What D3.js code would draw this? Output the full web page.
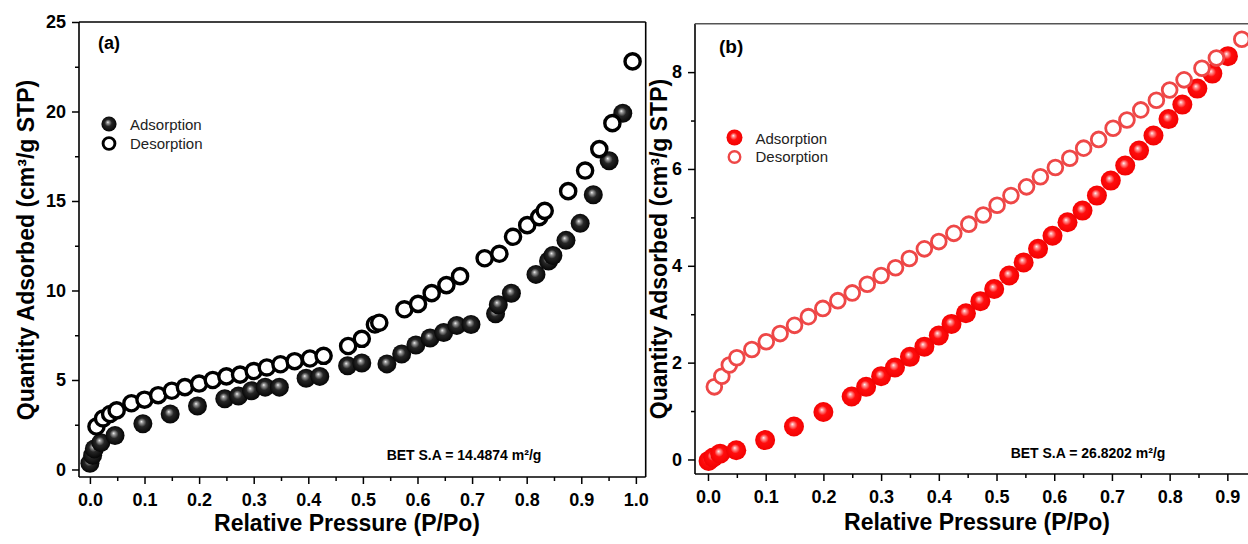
<!DOCTYPE html>
<html><head><meta charset="utf-8">
<script src="https://cdn.jsdelivr.net/npm/d3@7"></script>
<style>body{margin:0;background:#fff}svg{display:block;font-family:"Liberation Sans",Arial,sans-serif}</style>
</head><body><svg id="c" width="1248" height="544"></svg>
<script>
// ---- data ----
const xTicksA = [0,0.1,0.2,0.3,0.4,0.5,0.6,0.7,0.8,0.9,1.0];
const xTicksB = [0,0.1,0.2,0.3,0.4,0.5,0.6,0.7,0.8,0.9];
const yTicksA = [0,5,10,15,20,25];
const yTicksB = [0,2,4,6,8];
const seriesNames = ["Adsorption","Desorption"];
const betA = "BET S.A = 14.4874 m\u00B2/g";
const betB = "BET S.A = 26.8202 m\u00B2/g";
const adsorptionA = [[0.0,0.35],[0.005,0.8],[0.008,1.15],[0.02,1.5],[0.046,1.9],[0.097,2.55],[0.147,3.1],[0.197,3.55],[0.247,3.95],[0.272,4.1],[0.296,4.4],[0.321,4.6],[0.347,4.6],[0.396,5.1],[0.421,5.2],[0.472,5.8],[0.498,5.95],[0.544,5.9],[0.571,6.45],[0.597,6.95],[0.623,7.35],[0.648,7.65],[0.672,8.05],[0.698,8.1],[0.743,8.7],[0.748,9.2],[0.772,9.85],[0.817,10.9],[0.84,11.65],[0.848,11.95],[0.872,12.8],[0.898,13.75],[0.922,15.35],[0.951,17.25],[0.976,19.9]];
const desorptionA = [[0.012,2.4],[0.024,2.85],[0.037,3.1],[0.049,3.3],[0.076,3.7],[0.1,3.9],[0.125,4.15],[0.15,4.4],[0.174,4.6],[0.2,4.8],[0.225,5.0],[0.25,5.2],[0.275,5.3],[0.3,5.5],[0.324,5.7],[0.349,5.88],[0.375,6.05],[0.403,6.2],[0.428,6.35],[0.473,6.9],[0.498,7.3],[0.522,8.1],[0.53,8.2],[0.576,8.95],[0.601,9.25],[0.626,9.85],[0.653,10.3],[0.678,10.8],[0.723,11.8],[0.75,12.05],[0.775,13.0],[0.801,13.65],[0.823,14.1],[0.833,14.45],[0.876,15.55],[0.907,16.7],[0.933,17.9],[0.957,19.35],[0.994,22.8]];
const adsorptionB = [[0.001,-0.03],[0.009,0.04],[0.021,0.12],[0.049,0.19],[0.099,0.4],[0.149,0.68],[0.2,0.98],[0.249,1.3],[0.274,1.5],[0.3,1.72],[0.324,1.9],[0.35,2.12],[0.375,2.33],[0.4,2.56],[0.422,2.8],[0.447,3.02],[0.472,3.27],[0.496,3.52],[0.522,3.8],[0.547,4.07],[0.572,4.35],[0.597,4.62],[0.623,4.9],[0.649,5.14],[0.674,5.45],[0.698,5.76],[0.723,6.07],[0.747,6.38],[0.772,6.69],[0.798,7.03],[0.822,7.33],[0.848,7.66],[0.874,7.97],[0.901,8.33]];
const desorptionB = [[0.011,1.5],[0.024,1.72],[0.037,1.95],[0.05,2.1],[0.076,2.27],[0.101,2.43],[0.125,2.6],[0.15,2.77],[0.174,2.95],[0.199,3.12],[0.225,3.28],[0.25,3.44],[0.276,3.62],[0.3,3.8],[0.325,3.96],[0.349,4.15],[0.375,4.35],[0.4,4.5],[0.426,4.67],[0.452,4.86],[0.477,5.05],[0.501,5.25],[0.525,5.45],[0.552,5.63],[0.576,5.84],[0.602,6.03],[0.627,6.22],[0.651,6.43],[0.677,6.61],[0.702,6.84],[0.726,7.01],[0.75,7.22],[0.777,7.42],[0.8,7.63],[0.825,7.84],[0.856,8.08],[0.881,8.29],[0.925,8.68]];

const svg = d3.select("#c");
const defs = svg.append("defs");
function grad(id, stops){
  const g = defs.append("radialGradient").attr("id",id)
    .attr("cx","50%").attr("cy","50%").attr("r","55%").attr("fx","42%").attr("fy","38%");
  stops.forEach(s=>g.append("stop").attr("offset",s[0]).attr("stop-color",s[1]));
}
grad("gBlack",[[0,"#f2f2f2"],[0.14,"#9a9a9a"],[0.42,"#262626"],[1,"#000"]]);
grad("gRed",[[0,"#fff4f4"],[0.14,"#ff9a9a"],[0.42,"#ff0d0d"],[1,"#f00000"]]);

function panel(c){
  const g = svg.append("g");
  const x = d3.scaleLinear().domain(c.xd).range([c.left,c.right]);
  const y = d3.scaleLinear().domain(c.yd).range([c.bottom,c.top]);
  const xMinor = d3.range(0.05,1.0,0.1);
  const yMinor = c.yMinor;
  // minor ticks
  g.append("g").attr("transform",`translate(0,${c.bottom})`)
    .call(d3.axisBottom(x).tickValues(xMinor).tickSize(4).tickFormat(""))
    .call(s=>s.select(".domain").remove());
  g.append("g").attr("transform",`translate(${c.left},0)`)
    .call(d3.axisLeft(y).tickValues(yMinor).tickSize(4).tickFormat(""))
    .call(s=>s.select(".domain").remove());
  // major
  const xa = g.append("g").attr("transform",`translate(0,${c.bottom})`)
    .call(d3.axisBottom(x).tickValues(c.xTicks).tickSize(7).tickPadding(9).tickFormat(d3.format(".1f")));
  xa.select(".domain").remove();
  const ya = g.append("g").attr("transform",`translate(${c.left},0)`)
    .call(d3.axisLeft(y).tickValues(c.yTicks).tickSize(7).tickPadding(6).tickFormat(d3.format("d")));
  ya.select(".domain").remove();
  g.selectAll(".tick line").attr("stroke","#000").attr("stroke-width",1.5);
  g.selectAll(".tick text").attr("font-size",18).attr("font-weight","bold").attr("fill","#000")
    .attr("font-family","'Liberation Sans',Arial,sans-serif");
  // frame
  g.append("line").attr("x1",c.left).attr("x2",c.left).attr("y1",c.top).attr("y2",c.bottom).attr("stroke","#000").attr("stroke-width",1.6);
  g.append("line").attr("x1",c.left).attr("x2",c.right).attr("y1",c.bottom).attr("y2",c.bottom).attr("stroke","#000").attr("stroke-width",1.6);
  g.append("line").attr("x1",c.left).attr("x2",c.right).attr("y1",c.top).attr("y2",c.top).attr("stroke",c.frameColor).attr("stroke-width",1.6);
  g.append("line").attr("x1",c.right).attr("x2",c.right).attr("y1",c.top).attr("y2",c.bottom).attr("stroke",c.frameColor).attr("stroke-width",1.6);
  // points
  g.append("g").selectAll("circle").data(c.ads).join("circle")
    .attr("cx",d=>x(d[0])).attr("cy",d=>y(d[1])).attr("r",c.rFill)
    .attr("fill",`url(#${c.gradId})`);
  g.append("g").selectAll("circle").data(c.des).join("circle")
    .attr("cx",d=>x(d[0])).attr("cy",d=>y(d[1])).attr("r",c.rOpen)
    .attr("fill","#fff").attr("stroke",c.openStroke).attr("stroke-width",c.openSW);
  // legend
  const lg = g.append("g");
  lg.append("circle").attr("cx",c.legX).attr("cy",c.legY).attr("r",c.rFill*0.8).attr("fill",`url(#${c.gradId})`);
  lg.append("circle").attr("cx",c.legX).attr("cy",c.legY+19.5).attr("r",c.rOpen*0.78)
    .attr("fill","#fff").attr("stroke",c.openStroke).attr("stroke-width",c.openSW*0.85);
  seriesNames.forEach((n,i)=>lg.append("text").attr("x",c.legX+21).attr("y",c.legY+6+i*18.5)
    .attr("font-size",15).attr("fill","#222").text(n));
  // labels
  g.append("text").attr("x",c.tagX).attr("y",c.tagY).attr("font-size",c.tagSize).attr("font-weight","bold").text(c.tag);
  g.append("text").attr("x",c.betX).attr("y",c.betY).attr("text-anchor","middle").attr("font-size",14).attr("font-weight","bold").text(c.bet);
  g.append("text").attr("x",c.xtX).attr("y",c.xtY).attr("text-anchor","middle").attr("font-size",23).attr("font-weight","bold").text("Relative Pressure (P/Po)");
  g.append("text").attr("transform",`translate(${c.ytX},${c.ytY}) rotate(-90)`).attr("text-anchor","middle")
    .attr("font-size",23).attr("font-weight","bold").text("Quantity Adsorbed (cm\u00B3/g STP)");
}

panel({xd:[-0.02,1.018], yd:[-0.42,25], left:79, right:645.7, top:22, bottom:477,
  xTicks:xTicksA, yTicks:yTicksA, yMinor:[2.5,7.5,12.5,17.5,22.5], frameColor:"#000",
  ads:adsorptionA, des:desorptionA, gradId:"gBlack", rFill:9.5, rOpen:7.6, openStroke:"#000", openSW:3.4,
  legX:109, legY:124, tag:"(a)", tagX:98, tagY:49, tagSize:18,
  bet:betA, betX:464, betY:460, xtX:347, xtY:531, ytX:34, ytY:250});

panel({xd:[-0.0225,1.02], yd:[-0.3,9.0], left:695, right:1296.6, top:23.7, bottom:474,
  xTicks:xTicksB, yTicks:yTicksB, yMinor:[1,3,5,7], frameColor:"#555",
  ads:adsorptionB, des:desorptionB, gradId:"gRed", rFill:10, rOpen:7.4, openStroke:"#ee4747", openSW:2.8,
  legX:734.5, legY:137.5, tag:"(b)", tagX:719, tagY:53, tagSize:19,
  bet:betB, betX:1088, betY:458, xtX:977, xtY:530, ytX:667, ytY:249});
</script></body></html>
